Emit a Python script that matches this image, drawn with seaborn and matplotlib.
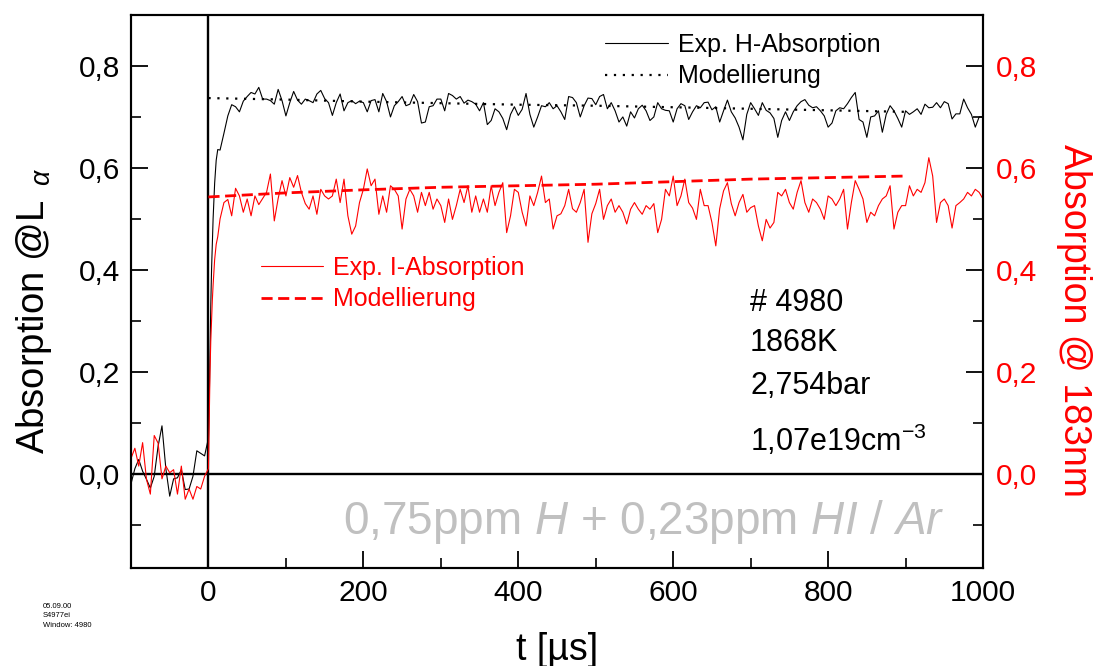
import numpy as np
import pandas as pd
import matplotlib
matplotlib.use('Agg')
import matplotlib.pyplot as plt
from matplotlib.ticker import MultipleLocator, FuncFormatter
import seaborn as sns

# time axis pieces [µs]
t_pre = np.arange(-100, 0, 5)
t_rise = [0, 1, 2, 3, 4, 5, 6, 8, 10, 12, 15]
t_main = np.arange(20, 1001, 5)

# H absorption (black, left axis)
h_pre = [-0.020, 0.010, 0.028, 0.005, -0.011, -0.028, -0.005, 0.054, 0.094, 0.010,
         -0.044, -0.010, -0.008, 0.008, -0.031, -0.030, -0.005, 0.045, 0.040, 0.035]
h_rise = [0.07, 0.14, 0.24, 0.33, 0.40, 0.45, 0.50, 0.57, 0.615, 0.636, 0.635]
h_main = [0.668, 0.702, 0.724, 0.720, 0.710, 0.731, 0.740, 0.748, 0.745, 0.758,
          0.735, 0.735, 0.732, 0.725, 0.754, 0.732, 0.702, 0.728, 0.750, 0.733,
          0.725, 0.735, 0.732, 0.728, 0.745, 0.752, 0.736, 0.728, 0.703, 0.728,
          0.745, 0.712, 0.728, 0.732, 0.726, 0.731, 0.728, 0.710, 0.732, 0.734,
          0.710, 0.746, 0.730, 0.700, 0.722, 0.730, 0.740, 0.722, 0.725, 0.744,
          0.730, 0.688, 0.690, 0.720, 0.722, 0.735, 0.735, 0.712, 0.746, 0.742,
          0.735, 0.740, 0.727, 0.733, 0.730, 0.725, 0.712, 0.728, 0.685, 0.693,
          0.716, 0.710, 0.697, 0.675, 0.705, 0.720, 0.703, 0.715, 0.746, 0.705,
          0.680, 0.700, 0.722, 0.720, 0.728, 0.716, 0.722, 0.710, 0.695, 0.740,
          0.738, 0.728, 0.700, 0.722, 0.737, 0.736, 0.724, 0.740, 0.744, 0.716,
          0.728, 0.712, 0.690, 0.700, 0.682, 0.710, 0.698, 0.716, 0.723, 0.712,
          0.693, 0.700, 0.728, 0.716, 0.713, 0.712, 0.690, 0.716, 0.726, 0.722,
          0.695, 0.710, 0.722, 0.718, 0.728, 0.729, 0.714, 0.720, 0.690, 0.712,
          0.733, 0.710, 0.698, 0.680, 0.655, 0.705, 0.728, 0.716, 0.703, 0.728,
          0.713, 0.708, 0.697, 0.660, 0.693, 0.710, 0.693, 0.710, 0.722, 0.730,
          0.734, 0.723, 0.718, 0.720, 0.712, 0.702, 0.680, 0.688, 0.712, 0.718,
          0.716, 0.726, 0.738, 0.748, 0.695, 0.690, 0.660, 0.700, 0.702, 0.712,
          0.670, 0.705, 0.722, 0.712, 0.697, 0.680, 0.712, 0.705, 0.710, 0.716,
          0.705, 0.725, 0.718, 0.719, 0.728, 0.718, 0.730, 0.726, 0.696, 0.706,
          0.706, 0.735, 0.718, 0.705, 0.680, 0.700, 0.700]

# I absorption (red, right axis)
i_pre = [0.030, 0.050, 0.015, 0.061, -0.011, -0.040, 0.075, 0.060, -0.010, 0.015,
         0.002, 0.008, -0.040, 0.015, -0.050, -0.030, -0.050, -0.025, -0.030, -0.005]
i_rise = [0.01, 0.10, 0.20, 0.26, 0.30, 0.34, 0.37, 0.42, 0.45, 0.465, 0.500]
i_main = [0.532, 0.538, 0.506, 0.560, 0.545, 0.513, 0.539, 0.506, 0.545, 0.528,
          0.540, 0.552, 0.588, 0.496, 0.540, 0.575, 0.545, 0.581, 0.562, 0.585,
          0.552, 0.530, 0.519, 0.545, 0.509, 0.558, 0.545, 0.539, 0.545, 0.578,
          0.532, 0.578, 0.506, 0.470, 0.486, 0.532, 0.558, 0.598, 0.565, 0.578,
          0.509, 0.545, 0.513, 0.565, 0.558, 0.545, 0.480, 0.539, 0.558, 0.545,
          0.513, 0.552, 0.526, 0.552, 0.519, 0.539, 0.526, 0.493, 0.539, 0.499,
          0.526, 0.558, 0.532, 0.565, 0.513, 0.545, 0.513, 0.539, 0.513, 0.565,
          0.526, 0.552, 0.571, 0.473, 0.506, 0.558, 0.552, 0.513, 0.486, 0.545,
          0.526, 0.552, 0.584, 0.532, 0.539, 0.480, 0.506, 0.510, 0.526, 0.558,
          0.520, 0.513, 0.532, 0.558, 0.454, 0.510, 0.530, 0.558, 0.499, 0.526,
          0.539, 0.513, 0.526, 0.513, 0.490, 0.519, 0.532, 0.519, 0.509, 0.526,
          0.519, 0.530, 0.473, 0.499, 0.558, 0.545, 0.584, 0.526, 0.545, 0.578,
          0.532, 0.521, 0.499, 0.558, 0.526, 0.526, 0.493, 0.447, 0.520, 0.555,
          0.571, 0.530, 0.506, 0.532, 0.548, 0.513, 0.522, 0.526, 0.486, 0.457,
          0.499, 0.482, 0.493, 0.552, 0.545, 0.558, 0.532, 0.519, 0.552, 0.575,
          0.532, 0.513, 0.539, 0.532, 0.519, 0.499, 0.545, 0.539, 0.526, 0.539,
          0.558, 0.480, 0.532, 0.575, 0.558, 0.539, 0.493, 0.513, 0.506, 0.526,
          0.539, 0.545, 0.565, 0.480, 0.513, 0.526, 0.526, 0.565, 0.545, 0.558,
          0.552, 0.571, 0.620, 0.584, 0.493, 0.532, 0.539, 0.526, 0.482, 0.526,
          0.532, 0.539, 0.552, 0.545, 0.558, 0.552, 0.539]

# model curves
t_model = [0, 100, 200, 300, 400, 500, 600, 700, 800, 900]
h_model = [0.737, 0.734, 0.730, 0.727, 0.724, 0.722, 0.719, 0.716, 0.713, 0.710]
i_model = [0.543, 0.551, 0.557, 0.562, 0.565, 0.568, 0.573, 0.578, 0.581, 0.584]

t_all = np.concatenate([t_pre, t_rise, t_main])
df = pd.DataFrame({'t': t_all,
                   'H': np.concatenate([h_pre, h_rise, h_main]),
                   'I': np.concatenate([i_pre, i_rise, i_main])})
df_model = pd.DataFrame({'t': t_model, 'H': h_model, 'I': i_model})

sns.set_style('ticks', {'axes.edgecolor': 'black', 'xtick.color': 'black',
                        'ytick.color': 'black', 'text.color': 'black',
                        'axes.labelcolor': 'black'})
plt.rcParams['font.family'] = ['Liberation Sans', 'DejaVu Sans']
plt.rcParams['mathtext.fontset'] = 'custom'
plt.rcParams['mathtext.rm'] = 'Liberation Sans'
plt.rcParams['mathtext.it'] = 'Liberation Sans:italic'
plt.rcParams['axes.linewidth'] = 1.5

fig = plt.figure(figsize=(10.98, 6.66), dpi=100)
ax = fig.add_axes([0.1193, 0.1471, 0.7760, 0.8304])
ax2 = ax.twinx()

sns.lineplot(data=df, x='t', y='H', ax=ax, color='black', lw=0.8,
             estimator=None, sort=False, label='Exp. H-Absorption')
sns.lineplot(data=df_model, x='t', y='H', ax=ax, color='black', lw=1.6,
             linestyle=(0, (1, 3)), estimator=None, label='Modellierung')
sns.lineplot(data=df, x='t', y='I', ax=ax2, color='red', lw=0.8,
             estimator=None, sort=False, label='Exp. I-Absorption')
sns.lineplot(data=df_model, x='t', y='I', ax=ax2, color='red', lw=2.0,
             linestyle=(0, (4, 2)), estimator=None, label='Modellierung')

ax.axhline(0, color='black', lw=1.7, zorder=1)
ax.axvline(0, color='black', lw=1.7, zorder=1)

ylim = (-0.185, 0.9)
comma = FuncFormatter(lambda v, p: f'{v:.1f}'.replace('.', ','))
for a in (ax, ax2):
    a.set_xlim(-100, 1000)
    a.set_ylim(*ylim)
    a.set_yticks([0, 0.2, 0.4, 0.6, 0.8])
    a.yaxis.set_minor_locator(MultipleLocator(0.1))
    a.yaxis.set_major_formatter(comma)
ax.set_xticks([0, 200, 400, 600, 800, 1000])
ax.xaxis.set_minor_locator(MultipleLocator(100))

ax.tick_params(which='major', direction='in', length=12, width=1.3,
               labelsize=21.5, pad=8)
ax.tick_params(which='minor', direction='in', length=7, width=1.2)
ax2.tick_params(axis='y', which='major', direction='in', length=12, width=1.3,
                labelsize=21.5, pad=9, labelcolor='red')
ax2.tick_params(axis='y', which='minor', direction='in', length=7, width=1.2)

ax.set_xlabel('t [µs]', fontsize=27, labelpad=18)
ax.set_ylabel(r'Absorption @L$_{\ \ \alpha}$', fontsize=27.5, labelpad=18, y=0.465)
ax2.set_ylabel('Absorption @ 183nm', fontsize=27, color='red',
               rotation=270, labelpad=40, y=0.448)

leg1 = ax.legend(loc='upper left', bbox_to_anchor=(0.5565, 0.968), frameon=False,
                 fontsize=18, handlelength=2.5, handletextpad=0.4,
                 labelspacing=0.31, borderpad=0, borderaxespad=0)
leg2 = ax2.legend(loc='upper left', bbox_to_anchor=(0.152, 0.565), frameon=False,
                  fontsize=18, handlelength=2.5, handletextpad=0.4,
                  labelspacing=0.31, borderpad=0, borderaxespad=0)
for txt in leg2.get_texts():
    txt.set_color('red')

info = ['# 4980', '1868K', '2,754bar', r'1,07e19cm$^{-3}$']
info_y = [0.479, 0.407, 0.329, 0.230]
for s, yy in zip(info, info_y):
    ax.text(0.7265, yy, s, transform=ax.transAxes, fontsize=22, va='center')

ax.text(0.955, 0.084, r'0,75ppm $\mathit{H}$ + 0,23ppm $\mathit{HI\ /\ Ar}$',
        transform=ax.transAxes, fontsize=33, color='#c0c0c0',
        ha='right', va='center')

fig.text(0.039, 0.095, '05.09.00\nS4977ei\nWindow: 4980', fontsize=5.5,
         va='top', linespacing=1.5)

fig.savefig('out.png', dpi=100)
